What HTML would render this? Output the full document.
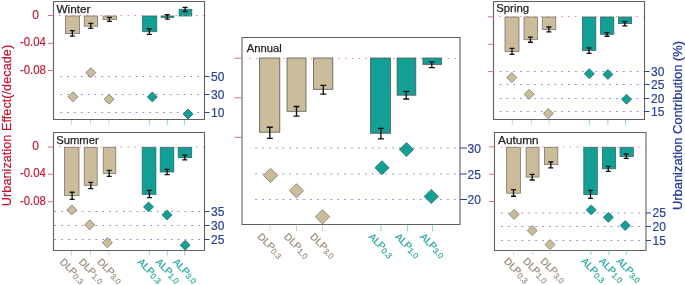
<!DOCTYPE html>
<html><head><meta charset="utf-8"><style>
html,body{margin:0;padding:0;background:#fff;}
svg{display:block;font-family:"Liberation Sans", sans-serif;will-change:transform;}
</style></head><body>
<svg width="685" height="285" viewBox="0 0 685 285">
<rect width="685" height="285" fill="#fff"/>
<line x1="60.25" y1="76.5" x2="203.9" y2="76.5" stroke="#8894cc" stroke-width="1" stroke-dasharray="1.8 5.05"/>
<line x1="60.25" y1="94.5" x2="203.9" y2="94.5" stroke="#8894cc" stroke-width="1" stroke-dasharray="1.8 5.05"/>
<line x1="60.25" y1="112.5" x2="203.9" y2="112.5" stroke="#8894cc" stroke-width="1" stroke-dasharray="1.8 5.05"/>
<rect x="65.4" y="16" width="14.20" height="17.60" fill="#cbbd9c" stroke="#7a766a" stroke-width="0.8"/>
<rect x="84.2" y="16" width="13.50" height="10.20" fill="#cbbd9c" stroke="#7a766a" stroke-width="0.8"/>
<rect x="103.1" y="16" width="13.50" height="3.60" fill="#cbbd9c" stroke="#7a766a" stroke-width="0.8"/>
<rect x="142.6" y="16" width="14.20" height="15.70" fill="#12a096" stroke="#2e6a64" stroke-width="0.8"/>
<rect x="161.1" y="16" width="12.70" height="1.40" fill="#12a096" stroke="#2e6a64" stroke-width="0.8"/>
<rect x="179.1" y="9.3" width="12.70" height="6.70" fill="#12a096" stroke="#2e6a64" stroke-width="0.8"/>
<line x1="59.00" y1="15.5" x2="203.9" y2="15.5" stroke="#e8849c" stroke-width="1" stroke-dasharray="1.5 5.35"/>
<path d="M69.9,30.6H74.9M72.4,30.6V36.1M69.9,36.1H74.9" stroke="#111" stroke-width="1.35" fill="none"/>
<path d="M88.3,23.3H93.3M90.8,23.3V28.3M88.3,28.3H93.3" stroke="#111" stroke-width="1.35" fill="none"/>
<path d="M106.9,17.4H111.9M109.4,17.4V21.4M106.9,21.4H111.9" stroke="#111" stroke-width="1.35" fill="none"/>
<path d="M146.8,28.7H151.8M149.3,28.7V34.3M146.8,34.3H151.8" stroke="#111" stroke-width="1.35" fill="none"/>
<path d="M164.8,14.7H169.8M167.3,14.7V19.1M164.8,19.1H169.8" stroke="#111" stroke-width="1.35" fill="none"/>
<path d="M182.6,7.4H187.6M185.1,7.4V11.5M182.6,11.5H187.6" stroke="#111" stroke-width="1.35" fill="none"/>
<path d="M73,91.8L78,96.8L73,101.8L68,96.8Z" fill="#cbbd9c" stroke="#7a766a" stroke-width="0.8"/>
<path d="M90.8,67.7L95.8,72.7L90.8,77.7L85.8,72.7Z" fill="#cbbd9c" stroke="#7a766a" stroke-width="0.8"/>
<path d="M109.1,94.2L114.1,99.2L109.1,104.2L104.1,99.2Z" fill="#cbbd9c" stroke="#7a766a" stroke-width="0.8"/>
<path d="M152.3,91.9L157.3,96.9L152.3,101.9L147.3,96.9Z" fill="#12a096" stroke="#2e6a64" stroke-width="0.8"/>
<path d="M188,109L193,114L188,119L183,114Z" fill="#12a096" stroke="#2e6a64" stroke-width="0.8"/>
<path d="M53.5,1.5H204.5V119.5H53.5Z" fill="none" stroke="#606060" stroke-width="1.1"/>
<line x1="48.0" y1="15.5" x2="53.5" y2="15.5" stroke="#e07088" stroke-width="1"/>
<text x="35.5" y="18.5" fill="#c41532" font-size="12" text-anchor="middle" stroke="#c41532" stroke-width="0.15">0</text>
<line x1="48.0" y1="43.3" x2="53.5" y2="43.3" stroke="#e07088" stroke-width="1"/>
<text x="32.9" y="46.3" fill="#c41532" font-size="12" text-anchor="middle" textLength="26" lengthAdjust="spacingAndGlyphs" stroke="#c41532" stroke-width="0.15">-0.04</text>
<line x1="48.0" y1="70.5" x2="53.5" y2="70.5" stroke="#e07088" stroke-width="1"/>
<text x="32.9" y="73.5" fill="#c41532" font-size="12" text-anchor="middle" textLength="26" lengthAdjust="spacingAndGlyphs" stroke="#c41532" stroke-width="0.15">-0.08</text>
<line x1="204.5" y1="76.5" x2="209.5" y2="76.5" stroke="#2c4199" stroke-width="1"/>
<text x="211.1" y="80.5" fill="#2c4199" font-size="12" text-anchor="start" stroke="#2c4199" stroke-width="0.2">50</text>
<line x1="204.5" y1="94.5" x2="209.5" y2="94.5" stroke="#2c4199" stroke-width="1"/>
<text x="211.1" y="98.5" fill="#2c4199" font-size="12" text-anchor="start" stroke="#2c4199" stroke-width="0.2">30</text>
<line x1="204.5" y1="112.5" x2="209.5" y2="112.5" stroke="#2c4199" stroke-width="1"/>
<text x="211.1" y="116.5" fill="#2c4199" font-size="12" text-anchor="start" stroke="#2c4199" stroke-width="0.2">10</text>
<line x1="71.5" y1="120" x2="71.5" y2="125" stroke="#e0d4b0" stroke-width="1"/>
<line x1="90.5" y1="120" x2="90.5" y2="125" stroke="#e0d4b0" stroke-width="1"/>
<line x1="108.9" y1="120" x2="108.9" y2="125" stroke="#e0d4b0" stroke-width="1"/>
<line x1="149.3" y1="120" x2="149.3" y2="125" stroke="#8ed8d0" stroke-width="1"/>
<line x1="167.3" y1="120" x2="167.3" y2="125" stroke="#8ed8d0" stroke-width="1"/>
<line x1="184.6" y1="120" x2="184.6" y2="125" stroke="#8ed8d0" stroke-width="1"/>
<text x="56.4" y="12.5" fill="#222" font-size="11.5" text-anchor="start" textLength="34.099999999999994" lengthAdjust="spacingAndGlyphs" stroke="#222" stroke-width="0.25">Winter</text>
<line x1="54.35" y1="211.5" x2="203.9" y2="211.5" stroke="#8894cc" stroke-width="1" stroke-dasharray="1.8 5.05"/>
<line x1="54.35" y1="225.5" x2="203.9" y2="225.5" stroke="#8894cc" stroke-width="1" stroke-dasharray="1.8 5.05"/>
<line x1="54.35" y1="239.5" x2="203.9" y2="239.5" stroke="#8894cc" stroke-width="1" stroke-dasharray="1.8 5.05"/>
<rect x="64.5" y="147.3" width="14.50" height="48.20" fill="#cbbd9c" stroke="#7a766a" stroke-width="0.8"/>
<rect x="84.2" y="147.3" width="13.00" height="38.00" fill="#cbbd9c" stroke="#7a766a" stroke-width="0.8"/>
<rect x="103.2" y="147.3" width="12.60" height="26.10" fill="#cbbd9c" stroke="#7a766a" stroke-width="0.8"/>
<rect x="142.2" y="147.3" width="13.70" height="47.00" fill="#12a096" stroke="#2e6a64" stroke-width="0.8"/>
<rect x="160.2" y="147.3" width="13.60" height="24.70" fill="#12a096" stroke="#2e6a64" stroke-width="0.8"/>
<rect x="178.2" y="147.3" width="13.50" height="10.40" fill="#12a096" stroke="#2e6a64" stroke-width="0.8"/>
<line x1="59.00" y1="147" x2="203.9" y2="147" stroke="#e8849c" stroke-width="1" stroke-dasharray="1.5 5.35"/>
<path d="M69.6,192.2H74.6M72.1,192.2V199.3M69.6,199.3H74.6" stroke="#111" stroke-width="1.35" fill="none"/>
<path d="M88.3,182.4H93.3M90.8,182.4V188.6M88.3,188.6H93.3" stroke="#111" stroke-width="1.35" fill="none"/>
<path d="M106.7,170.4H111.7M109.2,170.4V176.3M106.7,176.3H111.7" stroke="#111" stroke-width="1.35" fill="none"/>
<path d="M146.9,190.4H151.9M149.4,190.4V197.6M146.9,197.6H151.9" stroke="#111" stroke-width="1.35" fill="none"/>
<path d="M164.6,169.5H169.6M167.1,169.5V174.6M164.6,174.6H169.6" stroke="#111" stroke-width="1.35" fill="none"/>
<path d="M182.3,155.2H187.3M184.8,155.2V159.9M182.3,159.9H187.3" stroke="#111" stroke-width="1.35" fill="none"/>
<path d="M71.8,205L76.8,210L71.8,215L66.8,210Z" fill="#cbbd9c" stroke="#7a766a" stroke-width="0.8"/>
<path d="M89.7,219.8L94.7,224.8L89.7,229.8L84.7,224.8Z" fill="#cbbd9c" stroke="#7a766a" stroke-width="0.8"/>
<path d="M107.4,237.7L112.4,242.7L107.4,247.7L102.4,242.7Z" fill="#cbbd9c" stroke="#7a766a" stroke-width="0.8"/>
<path d="M148.5,201.9L153.5,206.9L148.5,211.9L143.5,206.9Z" fill="#12a096" stroke="#2e6a64" stroke-width="0.8"/>
<path d="M167,209.9L172,214.9L167,219.9L162,214.9Z" fill="#12a096" stroke="#2e6a64" stroke-width="0.8"/>
<path d="M185.2,240.2L190.2,245.2L185.2,250.2L180.2,245.2Z" fill="#12a096" stroke="#2e6a64" stroke-width="0.8"/>
<path d="M53.5,132.5H204.5V250.5H53.5Z" fill="none" stroke="#606060" stroke-width="1.1"/>
<line x1="48.0" y1="147" x2="53.5" y2="147" stroke="#e07088" stroke-width="1"/>
<text x="35.5" y="150.0" fill="#c41532" font-size="12" text-anchor="middle" stroke="#c41532" stroke-width="0.15">0</text>
<line x1="48.0" y1="174.2" x2="53.5" y2="174.2" stroke="#e07088" stroke-width="1"/>
<text x="32.9" y="177.2" fill="#c41532" font-size="12" text-anchor="middle" textLength="26" lengthAdjust="spacingAndGlyphs" stroke="#c41532" stroke-width="0.15">-0.04</text>
<line x1="48.0" y1="201.8" x2="53.5" y2="201.8" stroke="#e07088" stroke-width="1"/>
<text x="32.9" y="204.8" fill="#c41532" font-size="12" text-anchor="middle" textLength="26" lengthAdjust="spacingAndGlyphs" stroke="#c41532" stroke-width="0.15">-0.08</text>
<line x1="204.5" y1="211.5" x2="209.5" y2="211.5" stroke="#2c4199" stroke-width="1"/>
<text x="211.1" y="215.5" fill="#2c4199" font-size="12" text-anchor="start" stroke="#2c4199" stroke-width="0.2">35</text>
<line x1="204.5" y1="225.5" x2="209.5" y2="225.5" stroke="#2c4199" stroke-width="1"/>
<text x="211.1" y="229.5" fill="#2c4199" font-size="12" text-anchor="start" stroke="#2c4199" stroke-width="0.2">30</text>
<line x1="204.5" y1="239.5" x2="209.5" y2="239.5" stroke="#2c4199" stroke-width="1"/>
<text x="211.1" y="243.5" fill="#2c4199" font-size="12" text-anchor="start" stroke="#2c4199" stroke-width="0.2">25</text>
<line x1="71.5" y1="251" x2="71.5" y2="255.5" stroke="#e0d4b0" stroke-width="1"/>
<line x1="90.5" y1="251" x2="90.5" y2="255.5" stroke="#e0d4b0" stroke-width="1"/>
<line x1="108.9" y1="251" x2="108.9" y2="255.5" stroke="#e0d4b0" stroke-width="1"/>
<line x1="149.3" y1="251" x2="149.3" y2="255.5" stroke="#8ed8d0" stroke-width="1"/>
<line x1="167.3" y1="251" x2="167.3" y2="255.5" stroke="#8ed8d0" stroke-width="1"/>
<line x1="184.6" y1="251" x2="184.6" y2="255.5" stroke="#8ed8d0" stroke-width="1"/>
<text x="56.2" y="144" fill="#222" font-size="11.5" text-anchor="start" textLength="42.5" lengthAdjust="spacingAndGlyphs" stroke="#222" stroke-width="0.25">Summer</text>
<line x1="255.20" y1="148" x2="459.4" y2="148" stroke="#8894cc" stroke-width="1" stroke-dasharray="1.8 5.05"/>
<line x1="255.20" y1="174" x2="459.4" y2="174" stroke="#8894cc" stroke-width="1" stroke-dasharray="1.8 5.05"/>
<line x1="255.20" y1="199.5" x2="459.4" y2="199.5" stroke="#8894cc" stroke-width="1" stroke-dasharray="1.8 5.05"/>
<line x1="249.10" y1="58.5" x2="459.4" y2="58.5" stroke="#e8849c" stroke-width="1" stroke-dasharray="1.5 5.35"/>
<rect x="259.6" y="58" width="20.20" height="74.20" fill="#cbbd9c" stroke="#585858" stroke-width="0.8"/>
<rect x="287" y="58" width="19.00" height="53.30" fill="#cbbd9c" stroke="#585858" stroke-width="0.8"/>
<rect x="313.5" y="58" width="19.30" height="31.30" fill="#cbbd9c" stroke="#585858" stroke-width="0.8"/>
<rect x="370.4" y="58" width="20.10" height="75.30" fill="#12a096" stroke="#585858" stroke-width="0.8"/>
<rect x="397.1" y="58" width="18.70" height="37.20" fill="#12a096" stroke="#585858" stroke-width="0.8"/>
<rect x="422.9" y="58" width="18.50" height="6.50" fill="#12a096" stroke="#585858" stroke-width="0.8"/>
<path d="M266.8,127.2H272.8M269.8,127.2V138.3M266.8,138.3H272.8" stroke="#111" stroke-width="1.35" fill="none"/>
<path d="M293.5,106.5H299.5M296.5,106.5V116.1M293.5,116.1H299.5" stroke="#111" stroke-width="1.35" fill="none"/>
<path d="M320.3,85.4H326.3M323.3,85.4V94.1M320.3,94.1H326.3" stroke="#111" stroke-width="1.35" fill="none"/>
<path d="M377.9,128.4H383.9M380.9,128.4V138.9M377.9,138.9H383.9" stroke="#111" stroke-width="1.35" fill="none"/>
<path d="M403.2,91.3H409.2M406.2,91.3V99M403.2,99H409.2" stroke="#111" stroke-width="1.35" fill="none"/>
<path d="M428.8,61.8H434.8M431.8,61.8V67.6M428.8,67.6H434.8" stroke="#111" stroke-width="1.35" fill="none"/>
<path d="M270.6,168.3L277.70000000000005,175.4L270.6,182.5L263.5,175.4Z" fill="#cbbd9c" stroke="#7a766a" stroke-width="0.8"/>
<path d="M296.5,183.70000000000002L303.6,190.8L296.5,197.9L289.4,190.8Z" fill="#cbbd9c" stroke="#7a766a" stroke-width="0.8"/>
<path d="M322.5,209.70000000000002L329.6,216.8L322.5,223.9L315.4,216.8Z" fill="#cbbd9c" stroke="#7a766a" stroke-width="0.8"/>
<path d="M382,160.65L389.1,167.75L382,174.85L374.9,167.75Z" fill="#12a096" stroke="#2e6a64" stroke-width="0.8"/>
<path d="M406.5,142.4L413.6,149.5L406.5,156.6L399.4,149.5Z" fill="#12a096" stroke="#2e6a64" stroke-width="0.8"/>
<path d="M431.25,189.4L438.35,196.5L431.25,203.6L424.15,196.5Z" fill="#12a096" stroke="#2e6a64" stroke-width="0.8"/>
<path d="M242,37.5H460V224.5H242Z" fill="none" stroke="#606060" stroke-width="1.1"/>
<line x1="234.5" y1="58.3" x2="242" y2="58.3" stroke="#e07088" stroke-width="1"/>
<line x1="234.5" y1="97.8" x2="242" y2="97.8" stroke="#e07088" stroke-width="1"/>
<line x1="234.5" y1="137.3" x2="242" y2="137.3" stroke="#e07088" stroke-width="1"/>
<line x1="460" y1="148" x2="467" y2="148" stroke="#2c4199" stroke-width="1"/>
<text x="467.6" y="152.8" fill="#2c4199" font-size="12" text-anchor="start" stroke="#2c4199" stroke-width="0.2">30</text>
<line x1="460" y1="174" x2="467" y2="174" stroke="#2c4199" stroke-width="1"/>
<text x="467.6" y="178.8" fill="#2c4199" font-size="12" text-anchor="start" stroke="#2c4199" stroke-width="0.2">25</text>
<line x1="460" y1="199.5" x2="467" y2="199.5" stroke="#2c4199" stroke-width="1"/>
<text x="467.6" y="204.3" fill="#2c4199" font-size="12" text-anchor="start" stroke="#2c4199" stroke-width="0.2">20</text>
<line x1="270" y1="224.8" x2="270" y2="231.3" stroke="#e0d4b0" stroke-width="1"/>
<line x1="296.5" y1="224.8" x2="296.5" y2="231.3" stroke="#e0d4b0" stroke-width="1"/>
<line x1="322.5" y1="224.8" x2="322.5" y2="231.3" stroke="#e0d4b0" stroke-width="1"/>
<line x1="381" y1="224.8" x2="381" y2="231.3" stroke="#8ed8d0" stroke-width="1"/>
<line x1="407.5" y1="224.8" x2="407.5" y2="231.3" stroke="#8ed8d0" stroke-width="1"/>
<line x1="432.5" y1="224.8" x2="432.5" y2="231.3" stroke="#8ed8d0" stroke-width="1"/>
<text x="246.7" y="52.1" fill="#222" font-size="11.5" text-anchor="start" textLength="35.0" lengthAdjust="spacingAndGlyphs" stroke="#222" stroke-width="0.25">Annual</text>
<line x1="499.65" y1="71.5" x2="643.9" y2="71.5" stroke="#8894cc" stroke-width="1" stroke-dasharray="1.8 5.05"/>
<line x1="499.65" y1="84.5" x2="643.9" y2="84.5" stroke="#8894cc" stroke-width="1" stroke-dasharray="1.8 5.05"/>
<line x1="499.65" y1="98.5" x2="643.9" y2="98.5" stroke="#8894cc" stroke-width="1" stroke-dasharray="1.8 5.05"/>
<line x1="499.65" y1="111.5" x2="643.9" y2="111.5" stroke="#8894cc" stroke-width="1" stroke-dasharray="1.8 5.05"/>
<rect x="505" y="17" width="14.00" height="34.40" fill="#cbbd9c" stroke="#7a766a" stroke-width="0.8"/>
<rect x="524" y="17" width="13.50" height="22.70" fill="#cbbd9c" stroke="#7a766a" stroke-width="0.8"/>
<rect x="542.3" y="17" width="13.50" height="12.50" fill="#cbbd9c" stroke="#7a766a" stroke-width="0.8"/>
<rect x="582.5" y="17" width="13.30" height="33.50" fill="#12a096" stroke="#2e6a64" stroke-width="0.8"/>
<rect x="600.6" y="17" width="13.20" height="17.30" fill="#12a096" stroke="#2e6a64" stroke-width="0.8"/>
<rect x="618.5" y="17" width="13.10" height="6.60" fill="#12a096" stroke="#2e6a64" stroke-width="0.8"/>
<line x1="499.60" y1="16.5" x2="643.9" y2="16.5" stroke="#e8849c" stroke-width="1" stroke-dasharray="1.5 5.35"/>
<path d="M509.5,48.4H514.5M512,48.4V54.3M509.5,54.3H514.5" stroke="#111" stroke-width="1.35" fill="none"/>
<path d="M527.9,37.1H532.9M530.4,37.1V42.2M527.9,42.2H532.9" stroke="#111" stroke-width="1.35" fill="none"/>
<path d="M546.4,27H551.4M548.9,27V31.8M546.4,31.8H551.4" stroke="#111" stroke-width="1.35" fill="none"/>
<path d="M586.6,48H591.6M589.1,48V53.3M586.6,53.3H591.6" stroke="#111" stroke-width="1.35" fill="none"/>
<path d="M604.5,32.6H609.5M607,32.6V36.2M604.5,36.2H609.5" stroke="#111" stroke-width="1.35" fill="none"/>
<path d="M622.3,21.5H627.3M624.8,21.5V25.9M622.3,25.9H627.3" stroke="#111" stroke-width="1.35" fill="none"/>
<path d="M511.8,72.6L516.8,77.6L511.8,82.6L506.8,77.6Z" fill="#cbbd9c" stroke="#7a766a" stroke-width="0.8"/>
<path d="M529.2,89.3L534.2,94.3L529.2,99.3L524.2,94.3Z" fill="#cbbd9c" stroke="#7a766a" stroke-width="0.8"/>
<path d="M548.3,108.6L553.3,113.6L548.3,118.6L543.3,113.6Z" fill="#cbbd9c" stroke="#7a766a" stroke-width="0.8"/>
<path d="M589.3,68.7L594.3,73.7L589.3,78.7L584.3,73.7Z" fill="#12a096" stroke="#2e6a64" stroke-width="0.8"/>
<path d="M607.9,69.4L612.9,74.4L607.9,79.4L602.9,74.4Z" fill="#12a096" stroke="#2e6a64" stroke-width="0.8"/>
<path d="M626.5,94.2L631.5,99.2L626.5,104.2L621.5,99.2Z" fill="#12a096" stroke="#2e6a64" stroke-width="0.8"/>
<path d="M493.5,1.5H644.5V119.5H493.5Z" fill="none" stroke="#606060" stroke-width="1.1"/>
<line x1="488.0" y1="16.8" x2="493.5" y2="16.8" stroke="#e07088" stroke-width="1"/>
<line x1="488.0" y1="44.3" x2="493.5" y2="44.3" stroke="#e07088" stroke-width="1"/>
<line x1="488.0" y1="71.6" x2="493.5" y2="71.6" stroke="#e07088" stroke-width="1"/>
<line x1="644.5" y1="71.5" x2="649.5" y2="71.5" stroke="#2c4199" stroke-width="1"/>
<text x="651.1" y="75.5" fill="#2c4199" font-size="12" text-anchor="start" stroke="#2c4199" stroke-width="0.2">30</text>
<line x1="644.5" y1="84.5" x2="649.5" y2="84.5" stroke="#2c4199" stroke-width="1"/>
<text x="651.1" y="88.5" fill="#2c4199" font-size="12" text-anchor="start" stroke="#2c4199" stroke-width="0.2">25</text>
<line x1="644.5" y1="98.5" x2="649.5" y2="98.5" stroke="#2c4199" stroke-width="1"/>
<text x="651.1" y="102.5" fill="#2c4199" font-size="12" text-anchor="start" stroke="#2c4199" stroke-width="0.2">20</text>
<line x1="644.5" y1="111.5" x2="649.5" y2="111.5" stroke="#2c4199" stroke-width="1"/>
<text x="651.1" y="115.5" fill="#2c4199" font-size="12" text-anchor="start" stroke="#2c4199" stroke-width="0.2">15</text>
<line x1="512.3" y1="120" x2="512.3" y2="125" stroke="#e0d4b0" stroke-width="1"/>
<line x1="531.4" y1="120" x2="531.4" y2="125" stroke="#e0d4b0" stroke-width="1"/>
<line x1="549.1" y1="120" x2="549.1" y2="125" stroke="#e0d4b0" stroke-width="1"/>
<line x1="589.3" y1="120" x2="589.3" y2="125" stroke="#8ed8d0" stroke-width="1"/>
<line x1="607.9" y1="120" x2="607.9" y2="125" stroke="#8ed8d0" stroke-width="1"/>
<line x1="625.5" y1="120" x2="625.5" y2="125" stroke="#8ed8d0" stroke-width="1"/>
<text x="496.2" y="12" fill="#222" font-size="11.5" text-anchor="start" textLength="32.9" lengthAdjust="spacingAndGlyphs" stroke="#222" stroke-width="0.25">Spring</text>
<line x1="500.95" y1="213" x2="645.4" y2="213" stroke="#8894cc" stroke-width="1" stroke-dasharray="1.8 5.05"/>
<line x1="500.95" y1="226.5" x2="645.4" y2="226.5" stroke="#8894cc" stroke-width="1" stroke-dasharray="1.8 5.05"/>
<line x1="500.95" y1="240.5" x2="645.4" y2="240.5" stroke="#8894cc" stroke-width="1" stroke-dasharray="1.8 5.05"/>
<rect x="506.6" y="147.3" width="13.80" height="45.90" fill="#cbbd9c" stroke="#7a766a" stroke-width="0.8"/>
<rect x="526.1" y="147.3" width="12.90" height="29.80" fill="#cbbd9c" stroke="#7a766a" stroke-width="0.8"/>
<rect x="544.4" y="147.3" width="13.40" height="17.30" fill="#cbbd9c" stroke="#7a766a" stroke-width="0.8"/>
<rect x="583.8" y="147.3" width="13.50" height="47.20" fill="#12a096" stroke="#2e6a64" stroke-width="0.8"/>
<rect x="602.3" y="147.3" width="13.20" height="21.50" fill="#12a096" stroke="#2e6a64" stroke-width="0.8"/>
<rect x="620" y="147.3" width="13.30" height="9.20" fill="#12a096" stroke="#2e6a64" stroke-width="0.8"/>
<line x1="501.10" y1="147" x2="645.4" y2="147" stroke="#e8849c" stroke-width="1" stroke-dasharray="1.5 5.35"/>
<path d="M511.0,189.6H516.0M513.5,189.6V196.2M511.0,196.2H516.0" stroke="#111" stroke-width="1.35" fill="none"/>
<path d="M529.7,174.3H534.7M532.2,174.3V180M529.7,180H534.7" stroke="#111" stroke-width="1.35" fill="none"/>
<path d="M548.3,162H553.3M550.8,162V167.8M548.3,167.8H553.3" stroke="#111" stroke-width="1.35" fill="none"/>
<path d="M588.0,190.3H593.0M590.5,190.3V198.3M588.0,198.3H593.0" stroke="#111" stroke-width="1.35" fill="none"/>
<path d="M605.8,166.3H610.8M608.3,166.3V171.3M605.8,171.3H610.8" stroke="#111" stroke-width="1.35" fill="none"/>
<path d="M623.8,154H628.8M626.3,154V158.3M623.8,158.3H628.8" stroke="#111" stroke-width="1.35" fill="none"/>
<path d="M514.1,209.4L519.1,214.4L514.1,219.4L509.1,214.4Z" fill="#cbbd9c" stroke="#7a766a" stroke-width="0.8"/>
<path d="M532.2,225.5L537.2,230.5L532.2,235.5L527.2,230.5Z" fill="#cbbd9c" stroke="#7a766a" stroke-width="0.8"/>
<path d="M550,239.6L555,244.6L550,249.6L545,244.6Z" fill="#cbbd9c" stroke="#7a766a" stroke-width="0.8"/>
<path d="M591.2,204.9L596.2,209.9L591.2,214.9L586.2,209.9Z" fill="#12a096" stroke="#2e6a64" stroke-width="0.8"/>
<path d="M608.4,212.3L613.4,217.3L608.4,222.3L603.4,217.3Z" fill="#12a096" stroke="#2e6a64" stroke-width="0.8"/>
<path d="M625.2,220.5L630.2,225.5L625.2,230.5L620.2,225.5Z" fill="#12a096" stroke="#2e6a64" stroke-width="0.8"/>
<path d="M494.5,132.5H646V250.5H494.5Z" fill="none" stroke="#606060" stroke-width="1.1"/>
<line x1="489.0" y1="146.9" x2="494.5" y2="146.9" stroke="#e07088" stroke-width="1"/>
<line x1="489.0" y1="174.2" x2="494.5" y2="174.2" stroke="#e07088" stroke-width="1"/>
<line x1="489.0" y1="201.5" x2="494.5" y2="201.5" stroke="#e07088" stroke-width="1"/>
<line x1="646" y1="213" x2="651" y2="213" stroke="#2c4199" stroke-width="1"/>
<text x="652.6" y="217.0" fill="#2c4199" font-size="12" text-anchor="start" stroke="#2c4199" stroke-width="0.2">25</text>
<line x1="646" y1="226.5" x2="651" y2="226.5" stroke="#2c4199" stroke-width="1"/>
<text x="652.6" y="230.5" fill="#2c4199" font-size="12" text-anchor="start" stroke="#2c4199" stroke-width="0.2">20</text>
<line x1="646" y1="240.5" x2="651" y2="240.5" stroke="#2c4199" stroke-width="1"/>
<text x="652.6" y="244.5" fill="#2c4199" font-size="12" text-anchor="start" stroke="#2c4199" stroke-width="0.2">15</text>
<line x1="513.6" y1="250.5" x2="513.6" y2="255" stroke="#e0d4b0" stroke-width="1"/>
<line x1="532.6" y1="250.5" x2="532.6" y2="255" stroke="#e0d4b0" stroke-width="1"/>
<line x1="550.1" y1="250.5" x2="550.1" y2="255" stroke="#e0d4b0" stroke-width="1"/>
<line x1="590.8" y1="250.5" x2="590.8" y2="255" stroke="#8ed8d0" stroke-width="1"/>
<line x1="608.8" y1="250.5" x2="608.8" y2="255" stroke="#8ed8d0" stroke-width="1"/>
<line x1="626.3" y1="250.5" x2="626.3" y2="255" stroke="#8ed8d0" stroke-width="1"/>
<text x="498" y="143.7" fill="#222" font-size="11.5" text-anchor="start" textLength="40.699999999999996" lengthAdjust="spacingAndGlyphs" stroke="#222" stroke-width="0.25">Autumn</text>
<text transform="translate(59.3,262.5) rotate(45)" fill="#9c8b78" stroke="#9c8b78" stroke-width="0.2" font-size="10">DLP<tspan font-size="8" dy="1">0.3</tspan></text>
<text transform="translate(78.3,262.5) rotate(45)" fill="#9c8b78" stroke="#9c8b78" stroke-width="0.2" font-size="10">DLP<tspan font-size="8" dy="1">1.0</tspan></text>
<text transform="translate(96.7,262.5) rotate(45)" fill="#9c8b78" stroke="#9c8b78" stroke-width="0.2" font-size="10">DLP<tspan font-size="8" dy="1">3.0</tspan></text>
<text transform="translate(137.10000000000002,262.5) rotate(45)" fill="#21a59b" stroke="#21a59b" stroke-width="0.2" font-size="10">ALP<tspan font-size="8" dy="1">0.3</tspan></text>
<text transform="translate(155.10000000000002,262.5) rotate(45)" fill="#21a59b" stroke="#21a59b" stroke-width="0.2" font-size="10">ALP<tspan font-size="8" dy="1">1.0</tspan></text>
<text transform="translate(172.4,262.5) rotate(45)" fill="#21a59b" stroke="#21a59b" stroke-width="0.2" font-size="10">ALP<tspan font-size="8" dy="1">3.0</tspan></text>
<text transform="translate(257.1,237.2) rotate(45)" fill="#9c8b78" stroke="#9c8b78" stroke-width="0.2" font-size="10">DLP<tspan font-size="8" dy="1">0.3</tspan></text>
<text transform="translate(283.6,237.2) rotate(45)" fill="#9c8b78" stroke="#9c8b78" stroke-width="0.2" font-size="10">DLP<tspan font-size="8" dy="1">1.0</tspan></text>
<text transform="translate(309.6,237.2) rotate(45)" fill="#9c8b78" stroke="#9c8b78" stroke-width="0.2" font-size="10">DLP<tspan font-size="8" dy="1">3.0</tspan></text>
<text transform="translate(368.1,237.2) rotate(45)" fill="#21a59b" stroke="#21a59b" stroke-width="0.2" font-size="10">ALP<tspan font-size="8" dy="1">0.3</tspan></text>
<text transform="translate(394.6,237.2) rotate(45)" fill="#21a59b" stroke="#21a59b" stroke-width="0.2" font-size="10">ALP<tspan font-size="8" dy="1">1.0</tspan></text>
<text transform="translate(419.6,237.2) rotate(45)" fill="#21a59b" stroke="#21a59b" stroke-width="0.2" font-size="10">ALP<tspan font-size="8" dy="1">3.0</tspan></text>
<text transform="translate(503.40000000000003,261.8) rotate(45)" fill="#9c8b78" stroke="#9c8b78" stroke-width="0.2" font-size="10">DLP<tspan font-size="8" dy="1">0.3</tspan></text>
<text transform="translate(522.4,261.8) rotate(45)" fill="#9c8b78" stroke="#9c8b78" stroke-width="0.2" font-size="10">DLP<tspan font-size="8" dy="1">1.0</tspan></text>
<text transform="translate(539.9,261.8) rotate(45)" fill="#9c8b78" stroke="#9c8b78" stroke-width="0.2" font-size="10">DLP<tspan font-size="8" dy="1">3.0</tspan></text>
<text transform="translate(580.5999999999999,261.8) rotate(45)" fill="#21a59b" stroke="#21a59b" stroke-width="0.2" font-size="10">ALP<tspan font-size="8" dy="1">0.3</tspan></text>
<text transform="translate(598.5999999999999,261.8) rotate(45)" fill="#21a59b" stroke="#21a59b" stroke-width="0.2" font-size="10">ALP<tspan font-size="8" dy="1">1.0</tspan></text>
<text transform="translate(616.0999999999999,261.8) rotate(45)" fill="#21a59b" stroke="#21a59b" stroke-width="0.2" font-size="10">ALP<tspan font-size="8" dy="1">3.0</tspan></text>
<text transform="translate(10.8,125.5) rotate(-90)" fill="#c41532" stroke="#c41532" stroke-width="0.2" font-size="13" text-anchor="middle" textLength="161.3" lengthAdjust="spacingAndGlyphs">Urbanization Effect(/decade)</text>
<text transform="translate(682,125.5) rotate(-90)" fill="#25399a" stroke="#25399a" stroke-width="0.25" font-size="13" text-anchor="middle" textLength="169" lengthAdjust="spacingAndGlyphs">Urbanization Contribution (%)</text>
</svg>
</body></html>
